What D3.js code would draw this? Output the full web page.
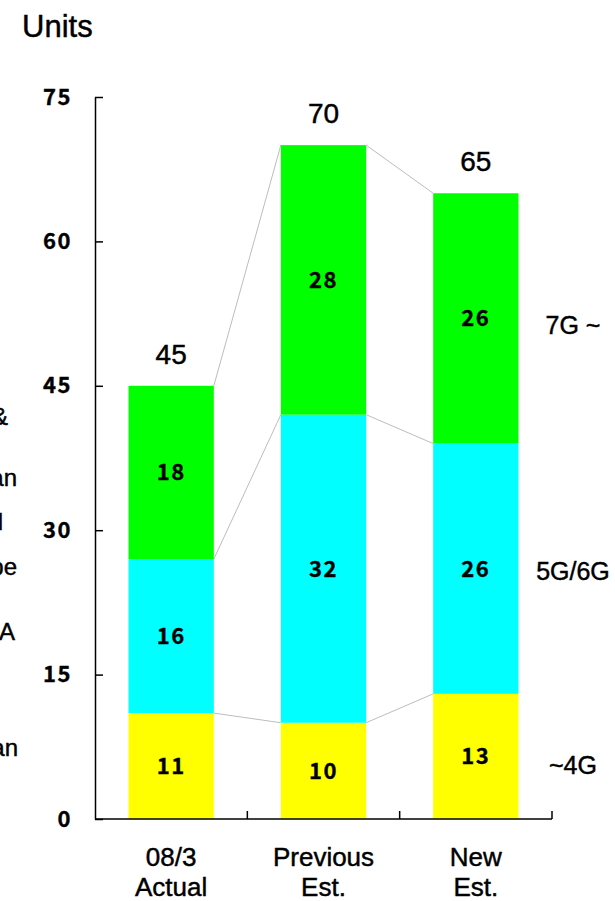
<!DOCTYPE html>
<html>
<head>
<meta charset="utf-8">
<script src="https://cdn.jsdelivr.net/npm/d3@7"></script>
<style>
  html, body { margin: 0; padding: 0; background: #fff; }
  svg { display: block; }
  .sans { font-family: "Liberation Sans", Arial, sans-serif; stroke: #000; stroke-width: 0.45px; }
  .goth { font-family: "Noto Sans CJK JP", "DejaVu Sans", sans-serif; font-weight: bold; stroke: #000; stroke-width: 0.35px; }
</style>
</head>
<body>
<svg id="chart" width="615" height="901"></svg>
<script>
// Unit counts by generation group for each period
const categories = [["08/3", "Actual"], ["Previous", "Est."], ["New", "Est."]];
const gen4Below = [11, 10, 13];
const gen5to6 = [16, 32, 26];
const gen7Above = [18, 28, 26];
const seriesNames = ["~4G", "5G/6G", "7G ~"];
const yTicks = [0, 15, 30, 45, 60, 75];
// Legend words on the far left, partly outside the page
const sideWords = ["Korea &", "Japan", "Total", "Europe", "USA", "Japan"];
const sideWordY = [425, 486, 530, 575, 640, 756];
const sideWordEnd = [8, 17, 3, 17, 15, 18];

const colors = ["#ffff00", "#00ffff", "#00ff00"];
const series = [gen4Below, gen5to6, gen7Above];

const svg = d3.select("#chart");
const plotLeft = 95, plotRight = 552, plotTop = 97, plotBottom = 819;

const x = d3.scaleBand()
  .domain(d3.range(categories.length))
  .range([plotLeft, plotRight])
  .paddingInner(0.44)
  .paddingOuter(0.22);

const y = d3.scaleLinear().domain([0, 75]).range([plotBottom, plotTop]);

// stacked layout
const rows = categories.map((c, i) => ({ i, v0: gen4Below[i], v1: gen5to6[i], v2: gen7Above[i] }));
const stack = d3.stack().keys(["v0", "v1", "v2"])(rows);

// connector lines between neighbouring bars
const conn = svg.append("g").attr("stroke", "#bdbdbd").attr("stroke-width", 1).attr("fill", "none");
stack.forEach(layer => {
  for (let i = 0; i < rows.length - 1; i++) {
    conn.append("line")
      .attr("x1", x(i) + x.bandwidth()).attr("y1", y(layer[i][1]))
      .attr("x2", x(i + 1)).attr("y2", y(layer[i + 1][1]));
  }
});

// bars
stack.forEach((layer, k) => {
  svg.append("g").selectAll("rect").data(layer).join("rect")
    .attr("x", (d, i) => x(i))
    .attr("width", x.bandwidth())
    .attr("y", d => y(d[1]))
    .attr("height", d => y(d[0]) - y(d[1]))
    .attr("fill", colors[k]);
});

// value labels inside segments
stack.forEach((layer, k) => {
  svg.append("g").selectAll("text").data(layer).join("text")
    .attr("class", "goth")
    .attr("x", (d, i) => x(i) + x.bandwidth() / 2)
    .attr("y", d => y((d[0] + d[1]) / 2))
    .attr("dy", "0.36em")
    .attr("text-anchor", "middle")
    .attr("font-size", 22)
    .attr("letter-spacing", 1.5)
    .attr("fill", "#000")
    .text((d, i) => series[k][i]);
});

// totals above bars
rows.forEach(r => {
  const total = r.v0 + r.v1 + r.v2;
  svg.append("text")
    .attr("class", "sans")
    .attr("x", x(r.i) + x.bandwidth() / 2)
    .attr("y", y(total) - 22)
    .attr("text-anchor", "middle")
    .attr("font-size", 28)
    .attr("fill", "#000")
    .text(total);
});

// y axis
const yAxis = d3.axisLeft(y).tickValues(yTicks).tickSize(-8).tickPadding(23).tickSizeOuter(0);
const gy = svg.append("g").attr("transform", `translate(${plotLeft},0)`).call(yAxis);
gy.select(".domain").attr("stroke", "#000").attr("stroke-width", 1.5);
gy.selectAll(".tick line").attr("stroke", "#000").attr("stroke-width", 1.5);
gy.selectAll(".tick text")
  .attr("class", "goth")
  .attr("font-size", 22)
  .attr("letter-spacing", 1.5)
  .attr("fill", "#000");

// x axis with ticks between categories
const xAxisG = svg.append("g");
xAxisG.append("line")
  .attr("x1", plotLeft).attr("x2", plotRight).attr("y1", plotBottom).attr("y2", plotBottom)
  .attr("stroke", "#000").attr("stroke-width", 1.5);
const boundaries = d3.range(categories.length).map(i => x(i) + x.bandwidth() + (x.step() - x.bandwidth()) / 2);
xAxisG.selectAll("line.tk").data(boundaries).join("line")
  .attr("class", "tk")
  .attr("x1", d => d).attr("x2", d => d)
  .attr("y1", plotBottom).attr("y2", plotBottom - 8)
  .attr("stroke", "#000").attr("stroke-width", 1.5);

// category labels
categories.forEach((lines, i) => {
  const t = svg.append("text")
    .attr("class", "sans")
    .attr("text-anchor", "middle")
    .attr("font-size", 26)
    .attr("fill", "#000");
  lines.forEach((ln, j) => {
    t.append("tspan")
      .attr("x", x(i) + x.bandwidth() / 2)
      .attr("y", 866 + j * 30)
      .text(ln);
  });
});

// series names beside the last bar
const lastLayer = stack.map(l => l[l.length - 1]);
const nameShift = [9, 2, 7];
seriesNames.forEach((name, k) => {
  svg.append("text")
    .attr("class", "sans")
    .attr("x", 573)
    .attr("y", y((lastLayer[k][0] + lastLayer[k][1]) / 2) + nameShift[k])
    .attr("dy", "0.36em")
    .attr("text-anchor", "middle")
    .attr("font-size", 25)
    .attr("fill", "#000")
    .text(name);
});

// unit title
svg.append("text")
  .attr("class", "sans")
  .attr("x", 22).attr("y", 37)
  .attr("font-size", 31)
  .attr("fill", "#000")
  .text("Units");

// side legend words
sideWords.forEach((w, i) => {
  svg.append("text")
    .attr("class", "sans")
    .attr("x", sideWordEnd[i])
    .attr("y", sideWordY[i])
    .attr("text-anchor", "end")
    .attr("font-size", 24)
    .attr("fill", "#000")
    .text(w);
});
</script>
</body>
</html>
